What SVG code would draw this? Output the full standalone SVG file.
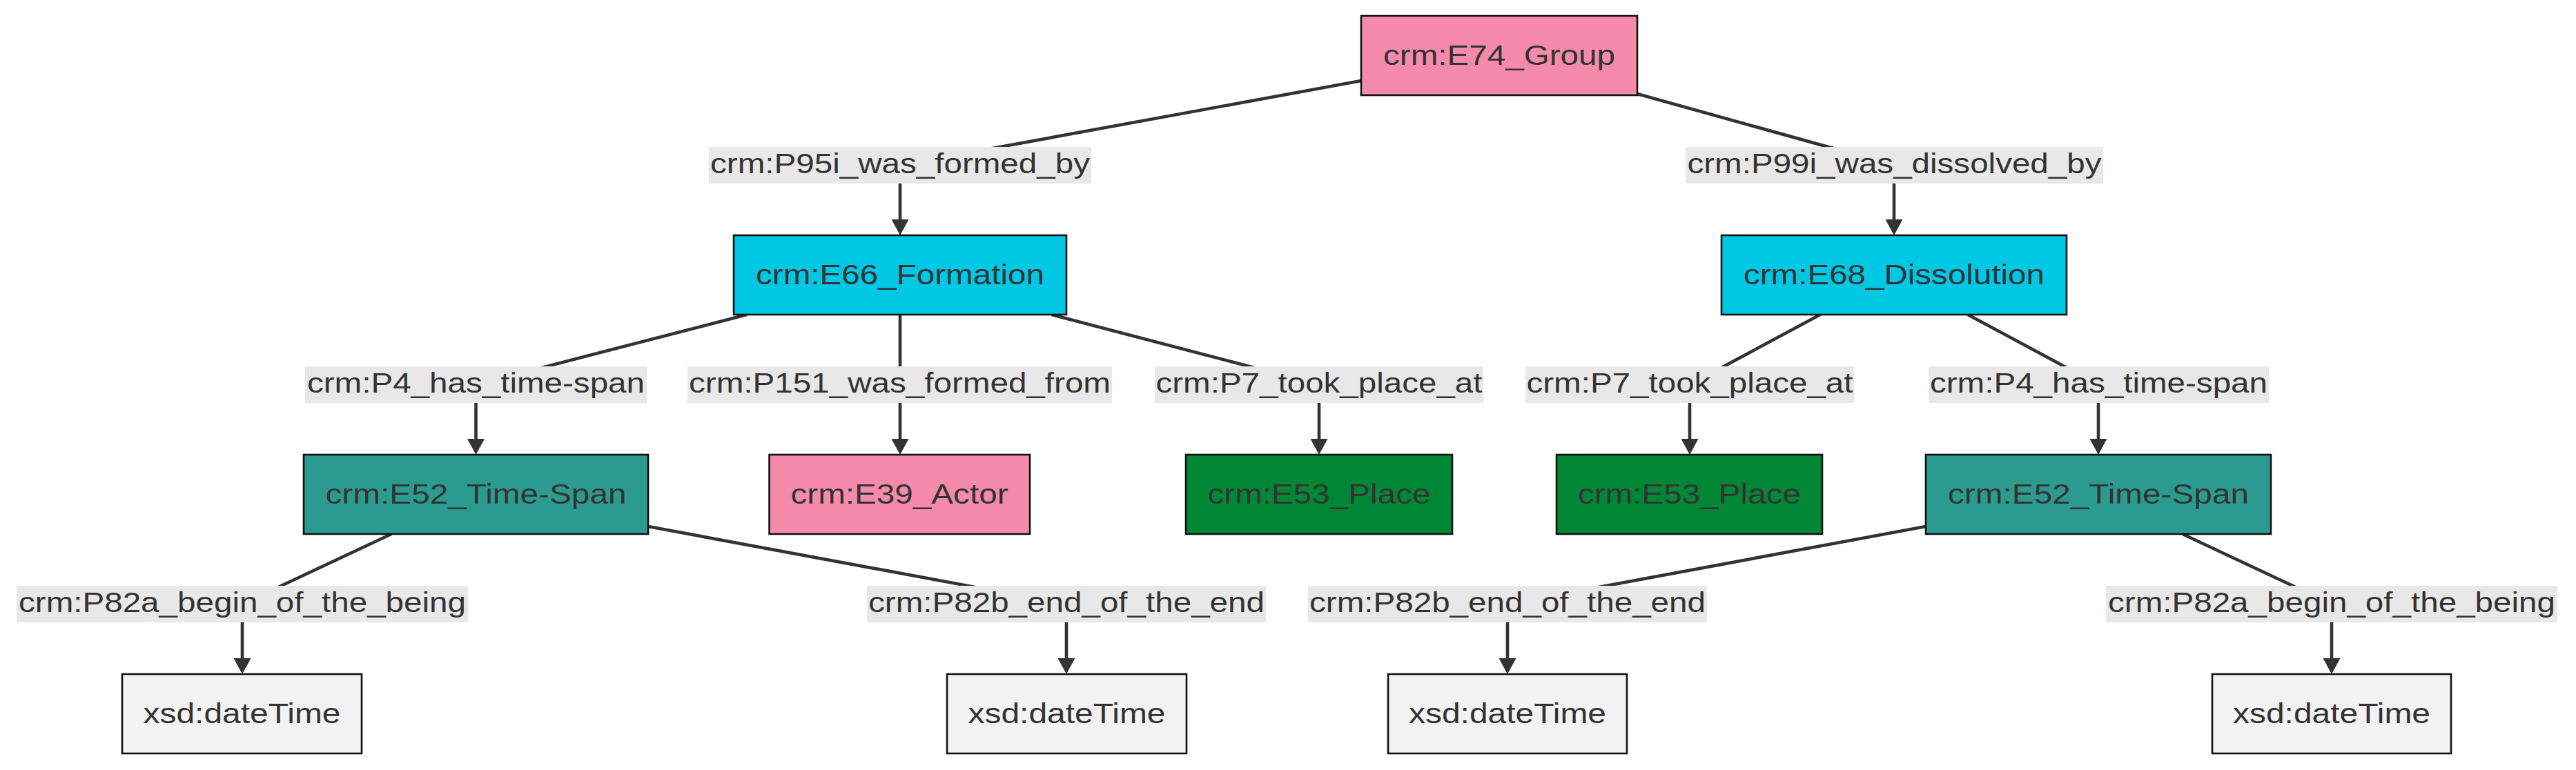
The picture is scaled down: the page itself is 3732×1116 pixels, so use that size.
<svg xmlns="http://www.w3.org/2000/svg" width="3732" height="1116" viewBox="0 0 3732 1116">
<style>
text{font-family:"Liberation Sans",Arial,sans-serif;font-size:41px;fill:#333;text-anchor:middle}
.node rect{stroke:#111;stroke-width:2.6}
.pink{fill:#f68aab}
.cyan{fill:#00c7e3}
.teal{fill:#2c9b8f}
.green{fill:#008736}
.gray{fill:#f2f2f2}
.edge{fill:none;stroke:#333;stroke-width:4.6;stroke-linejoin:round}
.lbl rect{fill:#e8e8e8}
</style>
<defs>
<marker id="arr" viewBox="0 0 10 10" refX="4.78" refY="5" markerWidth="23" markerHeight="25" markerUnits="userSpaceOnUse" orient="auto" preserveAspectRatio="none">
<path d="M0,0 L10,5 L0,10 z" fill="#333"/>
</marker>
</defs>
<rect width="3732" height="1116" fill="#fff"/>
<g id="connectors">
<path class="edge" marker-end="url(#arr)" d="M1972,117.1 L1304,239.5 L1304,329"/>
<path class="edge" marker-end="url(#arr)" d="M2372,136 L2744,239.5 L2744,329"/>
<path class="edge" marker-end="url(#arr)" d="M1082,456 L689.5,557.5 L689.5,647"/>
<path class="edge" marker-end="url(#arr)" d="M1304,456 L1304,647"/>
<path class="edge" marker-end="url(#arr)" d="M1523.5,456 L1911,557.5 L1911,647"/>
<path class="edge" marker-end="url(#arr)" d="M2637,456 L2448,557.5 L2448,647"/>
<path class="edge" marker-end="url(#arr)" d="M2851,456 L3040,557.5 L3040,647"/>
<path class="edge" marker-end="url(#arr)" d="M567,774 L351,875.5 L351,965"/>
<path class="edge" marker-end="url(#arr)" d="M939,763 L1545,875.5 L1545,965"/>
<path class="edge" marker-end="url(#arr)" d="M2790,763 L2184,875.5 L2184,965"/>
<path class="edge" marker-end="url(#arr)" d="M3162,774 L3378,875.5 L3378,965"/>
<g class="lbl">
<rect x="1027" y="213" width="554" height="53"/><text x="1304" y="250.5" textLength="550" lengthAdjust="spacingAndGlyphs">crm:P95i_was_formed_by</text>
<rect x="2442" y="213" width="605" height="53"/><text x="2744.5" y="250.5" textLength="600" lengthAdjust="spacingAndGlyphs">crm:P99i_was_dissolved_by</text>
<rect x="442" y="531" width="495" height="53"/><text x="689.5" y="568.5" textLength="489" lengthAdjust="spacingAndGlyphs">crm:P4_has_time-span</text>
<rect x="996" y="531" width="615" height="53"/><text x="1303.5" y="568.5" textLength="611" lengthAdjust="spacingAndGlyphs">crm:P151_was_formed_from</text>
<rect x="1673" y="531" width="476" height="53"/><text x="1911" y="568.5" textLength="473" lengthAdjust="spacingAndGlyphs">crm:P7_took_place_at</text>
<rect x="2210" y="531" width="476" height="53"/><text x="2448" y="568.5" textLength="473" lengthAdjust="spacingAndGlyphs">crm:P7_took_place_at</text>
<rect x="2794" y="531" width="493" height="53"/><text x="3040.5" y="568.5" textLength="489" lengthAdjust="spacingAndGlyphs">crm:P4_has_time-span</text>
<rect x="24" y="849" width="654" height="53"/><text x="351" y="886.5" textLength="648" lengthAdjust="spacingAndGlyphs">crm:P82a_begin_of_the_being</text>
<rect x="1256" y="849" width="578" height="53"/><text x="1545" y="886.5" textLength="574" lengthAdjust="spacingAndGlyphs">crm:P82b_end_of_the_end</text>
<rect x="1895" y="849" width="578" height="53"/><text x="2184" y="886.5" textLength="574" lengthAdjust="spacingAndGlyphs">crm:P82b_end_of_the_end</text>
<rect x="3051" y="849" width="654" height="53"/><text x="3378" y="886.5" textLength="648" lengthAdjust="spacingAndGlyphs">crm:P82a_begin_of_the_being</text>
</g>
</g>
<g id="E74" class="node"><rect class="pink" x="1972" y="23" width="400" height="115"/><text x="2172" y="93.5" textLength="336" lengthAdjust="spacingAndGlyphs">crm:E74_Group</text></g>
<g id="E66" class="node"><rect class="cyan" x="1063" y="341" width="482" height="115"/><text x="1304" y="411.5" textLength="418" lengthAdjust="spacingAndGlyphs">crm:E66_Formation</text></g>
<g id="E68" class="node"><rect class="cyan" x="2494" y="341" width="500" height="115"/><text x="2744" y="411.5" textLength="436" lengthAdjust="spacingAndGlyphs">crm:E68_Dissolution</text></g>
<g id="E52a" class="node"><rect class="teal" x="440" y="659" width="499" height="115"/><text x="689.5" y="729.5" textLength="436" lengthAdjust="spacingAndGlyphs">crm:E52_Time-Span</text></g>
<g id="E39" class="node"><rect class="pink" x="1114.5" y="659" width="377.5" height="115"/><text x="1303" y="729.5" textLength="315" lengthAdjust="spacingAndGlyphs">crm:E39_Actor</text></g>
<g id="E53a" class="node"><rect class="green" x="1718" y="659" width="386" height="115"/><text x="1911" y="729.5" textLength="323" lengthAdjust="spacingAndGlyphs">crm:E53_Place</text></g>
<g id="E53b" class="node"><rect class="green" x="2255" y="659" width="385" height="115"/><text x="2447.5" y="729.5" textLength="323" lengthAdjust="spacingAndGlyphs">crm:E53_Place</text></g>
<g id="E52b" class="node"><rect class="teal" x="2790" y="659" width="500" height="115"/><text x="3040" y="729.5" textLength="436" lengthAdjust="spacingAndGlyphs">crm:E52_Time-Span</text></g>
<g id="xsd1" class="node"><rect class="gray" x="177" y="977" width="347" height="115"/><text x="350.5" y="1047.5" textLength="286" lengthAdjust="spacingAndGlyphs">xsd:dateTime</text></g>
<g id="xsd2" class="node"><rect class="gray" x="1372" y="977" width="347" height="115"/><text x="1545.5" y="1047.5" textLength="286" lengthAdjust="spacingAndGlyphs">xsd:dateTime</text></g>
<g id="xsd3" class="node"><rect class="gray" x="2011" y="977" width="346" height="115"/><text x="2184" y="1047.5" textLength="286" lengthAdjust="spacingAndGlyphs">xsd:dateTime</text></g>
<g id="xsd4" class="node"><rect class="gray" x="3205" y="977" width="346" height="115"/><text x="3378" y="1047.5" textLength="286" lengthAdjust="spacingAndGlyphs">xsd:dateTime</text></g>
</svg>
